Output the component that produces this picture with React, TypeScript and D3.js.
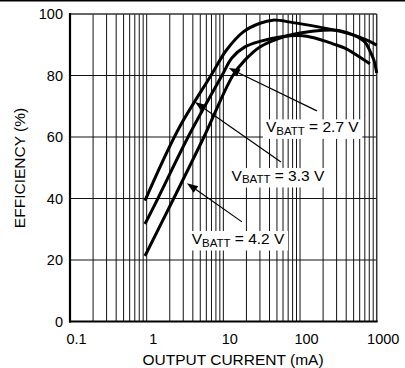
import React, { useEffect, useRef } from 'react';
import * as d3 from 'd3';

// ---- data ----
const xTickValues = [0.1, 1, 10, 100, 1000];
const xTickLabels = ['0.1', '1', '10', '100', '1000'];
const yTickValues = [0, 20, 40, 60, 80, 100];

// curve that starts highest at light load
const curve1Current = [0.95, 2.56, 6.89, 11.0, 18.2, 30, 44.3, 80.8, 166, 303, 489, 745, 1000];
const curve1Eff = [39.3, 62.3, 80, 88.3, 94.2, 97.0, 98.0, 97.2, 95.9, 94.6, 93.2, 91.5, 89.9];

// middle curve at light load
const curve2Current = [0.95, 1.4, 3.47, 9.59, 12.9, 19.1, 30, 59.8, 100, 156, 268, 385, 552, 815];
const curve2Eff = [31.7, 40, 60, 80, 85.7, 89.3, 91.1, 92.7, 93.0, 92.2, 90.3, 88.9, 86.6, 83.8];

// lowest curve at light load
const curve3Current = [0.95, 2.25, 5.58, 13.3, 19.1, 30, 59.8, 100, 199, 331, 520, 702, 815, 919, 1000];
const curve3Eff = [21.3, 40, 60, 80, 85.0, 89.3, 92.5, 93.8, 94.7, 94.6, 93.0, 90.9, 88.0, 85.0, 80.8];

// annotation labels (values), text anchor + arrow tail/tip in data units
const labelValues = ['2.7 V', '3.3 V', '4.2 V'];
const labelAnchorCurrent = [35.9, 12.8, 3.86];
const labelAnchorEff = [61.5, 45.7, 25.2];
const arrowTailCurrent = [166, 56.4, 17.5];
const arrowTailEff = [68.5, 51.9, 32.4];
const arrowTipCurrent = [11.8, 4.26, 3.35];
const arrowTipEff = [82.4, 71.4, 45.0];

const W = 405;
const H = 368;
const FONT = '"Liberation Sans", Arial, Helvetica, sans-serif';

export default function App() {
  const ref = useRef<SVGSVGElement | null>(null);

  useEffect(() => {
    const svg = d3.select(ref.current);
    svg.selectAll('*').remove();

    const x = d3.scaleLog().domain([0.1, 1000]).range([70, 376.7]);
    const y = d3.scaleLinear().domain([0, 100]).range([321.5, 14]);

    // page rule at top
    svg.append('line').attr('x1', 0).attr('x2', W).attr('y1', 0.75).attr('y2', 0.75)
      .attr('stroke', '#000').attr('stroke-width', 1.5);

    const grid = svg.append('g');
    const vLines: number[] = [];
    [0.1, 1, 10, 100].forEach((d) => {
      for (let k = 2; k <= 9; k++) vLines.push(k * d);
      if (d > 0.1) vLines.push(d);
    });
    grid.selectAll('line.v').data(vLines).enter().append('line')
      .attr('x1', (d) => x(d)).attr('x2', (d) => x(d))
      .attr('y1', y(0)).attr('y2', y(100))
      .attr('stroke', '#111').attr('stroke-width', 1);
    grid.selectAll('line.h').data([20, 40, 60, 80]).enter().append('line')
      .attr('x1', x(0.1)).attr('x2', x(1000))
      .attr('y1', (d) => y(d)).attr('y2', (d) => y(d))
      .attr('stroke', '#111').attr('stroke-width', 1);
    grid.append('line').attr('x1', x(0.1)).attr('x2', x(1000)).attr('y1', y(100)).attr('y2', y(100))
      .attr('stroke', '#333').attr('stroke-width', 1.5);
    grid.append('line').attr('x1', x(1000)).attr('x2', x(1000)).attr('y1', y(100)).attr('y2', y(0))
      .attr('stroke', '#333').attr('stroke-width', 1.5);
    grid.append('line').attr('x1', x(0.1)).attr('x2', x(0.1)).attr('y1', y(100) - 1).attr('y2', y(0) + 1)
      .attr('stroke', '#000').attr('stroke-width', 2.2);
    grid.append('line').attr('x1', x(0.1) - 1).attr('x2', x(1000) + 1).attr('y1', y(0)).attr('y2', y(0))
      .attr('stroke', '#000').attr('stroke-width', 2.2);

    // tick labels
    svg.selectAll('text.xt').data(xTickValues).enter().append('text')
      .attr('x', (d) => x(d) + 6.5).attr('y', 343.5)
      .attr('text-anchor', 'middle').attr('font-family', FONT).attr('font-size', 14.5)
      .text((d, i) => xTickLabels[i]);
    svg.selectAll('text.yt').data(yTickValues).enter().append('text')
      .attr('x', 63).attr('y', (d) => y(d) + 5)
      .attr('text-anchor', 'end').attr('font-family', FONT).attr('font-size', 14.5)
      .text((d) => String(d));

    // axis titles
    svg.append('text').attr('x', 233).attr('y', 365).attr('text-anchor', 'middle')
      .attr('font-family', FONT).attr('font-size', 15.5).text('OUTPUT CURRENT (mA)');
    svg.append('text').attr('transform', 'translate(25,168) rotate(-90)').attr('text-anchor', 'middle')
      .attr('font-family', FONT).attr('font-size', 15.5).text('EFFICIENCY (%)');

    // labels with white boxes
    labelValues.forEach((val, i) => {
      const g = svg.append('g');
      const rect = g.append('rect').attr('fill', '#fff');
      const t = g.append('text').attr('x', x(labelAnchorCurrent[i])).attr('y', y(labelAnchorEff[i]))
        .attr('font-family', FONT).attr('font-size', 15.5);
      t.append('tspan').text('V');
      t.append('tspan').attr('font-size', 11.5).attr('dy', 2.5).text('BATT');
      t.append('tspan').attr('dy', -2.5).text(' = ' + val);
      const bb = (t.node() as SVGTextElement).getBBox();
      rect.attr('x', bb.x - 3).attr('y', bb.y + 1).attr('width', bb.width + 6).attr('height', bb.height + 1);
    });

    // arrows
    labelValues.forEach((_, i) => {
      const x1 = x(arrowTailCurrent[i]);
      const y1 = y(arrowTailEff[i]);
      const x2 = x(arrowTipCurrent[i]);
      const y2 = y(arrowTipEff[i]);
      const ang = Math.atan2(y2 - y1, x2 - x1);
      const len = 11;
      const hw = 4;
      const bx = x2 - len * Math.cos(ang);
      const by = y2 - len * Math.sin(ang);
      svg.append('line').attr('x1', x1).attr('y1', y1).attr('x2', bx).attr('y2', by)
        .attr('stroke', '#000').attr('stroke-width', 1.2);
      const p = [
        [x2, y2],
        [bx + hw * Math.sin(ang), by - hw * Math.cos(ang)],
        [bx - hw * Math.sin(ang), by + hw * Math.cos(ang)],
      ];
      svg.append('polygon').attr('points', p.map((q) => q.join(',')).join(' ')).attr('fill', '#000');
    });

    // curves
    const line = d3.line<[number, number]>()
      .x((d) => x(d[0])).y((d) => y(d[1])).curve(d3.curveCatmullRom.alpha(0.5));
    const series: [number[], number[]][] = [
      [curve1Current, curve1Eff],
      [curve2Current, curve2Eff],
      [curve3Current, curve3Eff],
    ];
    series.forEach(([cx, cy]) => {
      const pts = cx.map((v, i) => [v, cy[i]] as [number, number]);
      svg.append('path').attr('d', line(pts) as string).attr('fill', 'none')
        .attr('stroke', '#000').attr('stroke-width', 3).attr('stroke-linecap', 'butt')
        .attr('stroke-linejoin', 'round');
    });
  }, []);

  return (
    <>
      <style>{'body{margin:0;background:#fff}'}</style>
      <svg ref={ref} width={W} height={H} style={{ display: 'block' }} />
    </>
  );
}
